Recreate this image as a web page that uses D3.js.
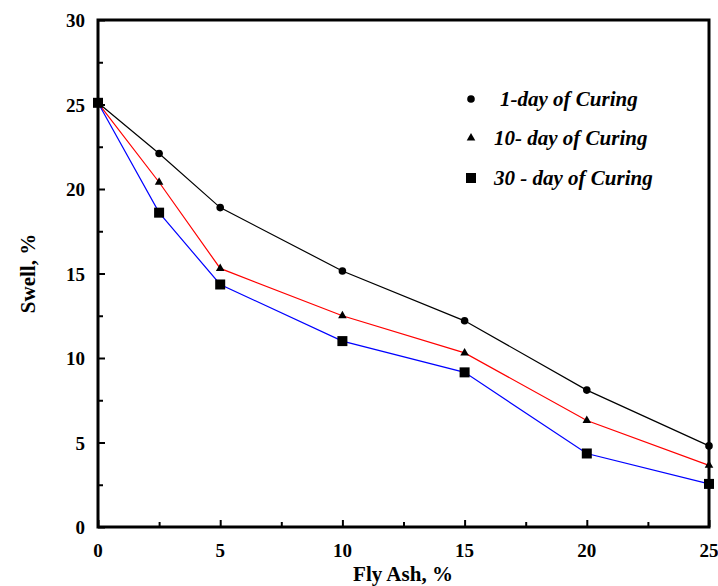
<!DOCTYPE html>
<html><head><meta charset="utf-8">
<script src="https://cdn.jsdelivr.net/npm/d3@7"></script>
<style>body{margin:0;background:#fff;} svg{display:block;font-family:"Liberation Serif","Times New Roman",serif;}</style>
</head><body>
<svg id="c" width="718" height="586"></svg>
<script>
const flyAsh = [0, 2.5, 5, 10, 15, 20, 25];
const day1 = [25.1, 22.1, 18.9, 15.15, 12.2, 8.1, 4.8];
const day10 = [25.1, 20.4, 15.3, 12.5, 10.3, 6.3, 3.65];
const day30 = [25.1, 18.6, 14.35, 11.0, 9.15, 4.35, 2.55];
const xTicks = [0, 5, 10, 15, 20, 25];
const yTicks = [0, 5, 10, 15, 20, 25, 30];
const seriesNames = ["1-day of Curing", "10- day of Curing", "30 - day of Curing"];
const seriesColors = ["#000000", "#ff0000", "#0000ff"];
const seriesShapes = ["circle", "triangle", "square"];

const svg = d3.select("#c");
const L = 98, R = 709, T = 20, B = 527;
const x = d3.scaleLinear().domain([0, 25]).range([L, R]);
const y = d3.scaleLinear().domain([0, 30]).range([B, T]);

const xAx = svg.append("g").attr("transform", `translate(0,${B})`)
  .call(d3.axisBottom(x).tickValues(d3.range(0, 25.01, 2.5)).tickSize(-7).tickFormat(""));
const yAx = svg.append("g").attr("transform", `translate(${L},0)`)
  .call(d3.axisLeft(y).tickValues(d3.range(0, 30.01, 2.5)).tickSize(-7).tickFormat(""));
[xAx, yAx].forEach(g => { g.select(".domain").remove(); g.selectAll("line").attr("stroke", "#000").attr("stroke-width", 2); });
xAx.selectAll(".tick").filter(d => d % 5 !== 0).select("line").attr("y2", -5);
yAx.selectAll(".tick").filter(d => d % 5 !== 0).select("line").attr("x2", 5);

svg.append("rect").attr("x", L).attr("y", T).attr("width", R - L).attr("height", B - T)
  .attr("fill", "none").attr("stroke", "#000").attr("stroke-width", 3);

svg.append("g").selectAll("text").data(xTicks).join("text")
  .attr("x", d => x(d)).attr("y", B + 30).attr("text-anchor", "middle")
  .attr("font-size", 19).attr("font-weight", "bold").text(d => d);
svg.append("g").selectAll("text").data(yTicks).join("text")
  .attr("x", L - 13).attr("y", d => y(d) + 7).attr("text-anchor", "end")
  .attr("font-size", 19).attr("font-weight", "bold").text(d => d);

svg.append("text").attr("x", 403).attr("y", 581).attr("text-anchor", "middle")
  .attr("font-size", 21).attr("font-weight", "bold").text("Fly Ash, %");
svg.append("text").attr("transform", `translate(35,${(T + B) / 2}) rotate(-90)`).attr("text-anchor", "middle")
  .attr("font-size", 21).attr("font-weight", "bold").text("Swell, %");

const all = [day1, day10, day30];
const line = d3.line().x((d, i) => x(flyAsh[i])).y(d => y(d));
function marker(g, shape, cx, cy) {
  if (shape === "circle") g.append("circle").attr("cx", cx).attr("cy", cy).attr("r", 3.8).attr("fill", "#000");
  else if (shape === "triangle") g.append("path").attr("d", d3.symbol().type(d3.symbolTriangle).size(32)()).attr("transform", `translate(${cx},${cy})`).attr("fill", "#000");
  else g.append("rect").attr("x", cx - 5).attr("y", cy - 5).attr("width", 10).attr("height", 10).attr("fill", "#000");
}
all.forEach((s, k) => {
  svg.append("path").datum(s).attr("d", line).attr("fill", "none").attr("stroke", seriesColors[k]).attr("stroke-width", 1.2);
});
all.forEach((s, k) => {
  const g = svg.append("g");
  s.forEach((v, i) => marker(g, seriesShapes[k], x(flyAsh[i]), y(v)));
});

const legY = [99, 138, 178];
const legTX = [500, 494, 494];
seriesNames.forEach((n, k) => {
  const g = svg.append("g");
  marker(g, seriesShapes[k], 471, legY[k]);
  svg.append("text").attr("x", legTX[k]).attr("y", legY[k] + 7).attr("font-size", 21)
    .attr("font-weight", "bold").attr("font-style", "italic").text(n);
});
</script>
</body></html>
